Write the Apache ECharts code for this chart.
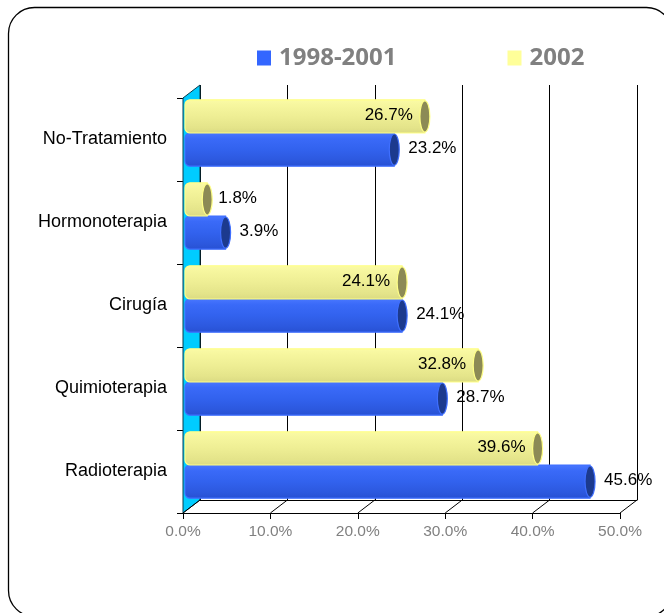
<!DOCTYPE html>
<html>
<head>
<meta charset="utf-8" />
<title>Tratamientos</title>
<script src="https://cdn.jsdelivr.net/npm/echarts@6/dist/echarts.min.js"></script>
<style>
  html, body { margin: 0; padding: 0; background: #fff; }
</style>
</head>
<body>
<div id="main" style="width: 664px;height:613px;"></div>
<script type="text/javascript">
// datos
var categories = ['No-Tratamiento', 'Hormonoterapia', 'Cirugía', 'Quimioterapia', 'Radioterapia'];
var values9801 = [23.2, 3.9, 24.1, 28.7, 45.6];
var values2002 = [26.7, 1.8, 24.1, 32.8, 39.6];
var xTicks = [0, 10, 20, 30, 40, 50];

var DX = 17, DY = 13; // profundidad del efecto 3D
var sans = "'Liberation Sans', Arial, sans-serif";

var myChart = echarts.init(document.getElementById('main'));

// pared izquierda y diagonales del suelo
function renderFrame(params, api) {
  var v = api.value(0);
  var band = api.size([0, 1])[1];
  var bottom = api.coord([0, categories.length - 1])[1] + band / 2;
  var top = api.coord([0, 0])[1] - band / 2;
  var x = api.coord([v, 0])[0];
  var children = [{
    type: 'line',
    shape: { x1: x, y1: bottom, x2: x + DX, y2: bottom - DY },
    style: { stroke: '#000', lineWidth: 1 }
  }];
  if (v === 0) {
    children.unshift({
      type: 'polygon',
      shape: { points: [[x, top], [x + DX, top - DY], [x + DX, bottom - DY], [x, bottom]] },
      style: { fill: '#00CCFF', stroke: '#0a3c4c', lineWidth: 1 }
    });
  }
  return { type: 'group', children: children };
}

function makeBar(isTop, body, edge, cap) {
  return function (params, api) {
    var cat = api.value(0);
    var v = api.value(1);
    var zero = api.coord([0, cat]);
    var end = api.coord([v, cat]);
    var band = api.size([0, 1])[1];
    var h = band * 0.4;
    var cy = zero[1] - DY / 2;
    var y0 = isTop ? cy - h : cy;
    var x0 = zero[0] + 2;
    var xe = end[0] + DX / 2;
    var label;
    if (isTop && v > 10) {
      label = { x: xe - 12, align: 'right' };
    } else {
      label = { x: xe + (isTop ? 11 : 14), align: 'left' };
    }
    return {
      type: 'group',
      children: [{
        type: 'rect',
        shape: { x: x0, y: y0, width: xe - x0, height: h, r: [5, 0, 0, 5] },
        style: {
          fill: new echarts.graphic.LinearGradient(0, 0, 0, 1, body),
          stroke: edge, lineWidth: 1.2
        }
      }, {
        type: 'ellipse',
        shape: { cx: xe, cy: y0 + h / 2, rx: 5, ry: h / 2 - 1 },
        style: { fill: cap, stroke: edge, lineWidth: 1.2 }
      }, {
        type: 'text',
        style: {
          text: v.toFixed(1) + '%',
          x: label.x, y: y0 + h / 2 - 1,
          align: label.align, verticalAlign: 'middle',
          font: '17px ' + sans,
          fill: '#000'
        },
        z2: 10
      }]
    };
  };
}

var option = {
  animation: false,
  graphic: [{
    type: 'rect',
    shape: { x: 8.5, y: 7.5, width: 664, height: 609, r: 26 },
    style: { fill: 'none', stroke: '#000', lineWidth: 1.3 },
    silent: true
  }],
  legend: {
    data: ['1998-2001', '2002'],
    left: 252,
    top: 41,
    icon: 'rect',
    itemWidth: 14,
    itemHeight: 15,
    itemGap: 111,
    textStyle: {
      color: '#808080', fontWeight: 'bold', fontSize: 24,
      fontFamily: "'Noto Sans', 'DejaVu Sans', sans-serif",
      padding: [0, 0, 0, 3]
    }
  },
  grid: [
    { left: 183, top: 98, width: 437, height: 415 },
    { left: 200, top: 85, width: 437, height: 415 }
  ],
  xAxis: [{
    gridIndex: 0,
    type: 'value', min: 0, max: 50, interval: 10,
    axisLine: { show: true, lineStyle: { color: '#000', width: 1 } },
    axisTick: { show: true, length: 6, lineStyle: { color: '#000' } },
    axisLabel: {
      margin: 11,
      color: '#808080',
      fontSize: 15.5,
      fontFamily: sans,
      formatter: function (v) { return v.toFixed(1) + '%'; }
    },
    splitLine: { show: false }
  }, {
    gridIndex: 1,
    type: 'value', min: 0, max: 50, interval: 10,
    axisLine: { show: true, lineStyle: { color: '#000', width: 1 } },
    axisTick: { show: false },
    axisLabel: { show: false },
    splitLine: { show: true, lineStyle: { color: '#000', width: 1 } }
  }],
  yAxis: [{
    gridIndex: 0,
    type: 'category',
    data: categories,
    inverse: true,
    axisLine: { show: true, lineStyle: { color: '#000' } },
    axisTick: { show: true, length: 6, lineStyle: { color: '#000' } },
    axisLabel: {
      margin: 16, color: '#000', fontSize: 18,
      fontFamily: sans
    }
  }, {
    gridIndex: 1,
    type: 'category',
    data: categories,
    inverse: true,
    show: false
  }],
  series: [{
    name: 'marco',
    type: 'custom',
    xAxisIndex: 0, yAxisIndex: 0,
    renderItem: renderFrame,
    data: xTicks.map(function (v) { return [v, 0]; }),
    encode: { x: 0, y: 1 },
    silent: true,
    z: 1
  }, {
    name: '1998-2001',
    type: 'custom',
    xAxisIndex: 0, yAxisIndex: 0,
    itemStyle: { color: '#3366FF' },
    renderItem: makeBar(false,
      [{ offset: 0, color: '#4A78FF' }, { offset: 0.18, color: '#3A6AF8' },
       { offset: 0.5, color: '#3262EE' }, { offset: 0.82, color: '#2C58DE' },
       { offset: 1, color: '#2750D2' }],
      '#3F6FFF', '#1C3A8E'),
    data: values9801.map(function (v, i) { return [i, v]; }),
    encode: { x: 1, y: 0 },
    z: 3
  }, {
    name: '2002',
    type: 'custom',
    xAxisIndex: 0, yAxisIndex: 0,
    itemStyle: { color: '#FFFF99' },
    renderItem: makeBar(true,
      [{ offset: 0, color: '#FBFBA6' }, { offset: 0.18, color: '#F6F69E' },
       { offset: 0.5, color: '#EEEE94' }, { offset: 0.82, color: '#E4E48A' },
       { offset: 1, color: '#DADA82' }],
      '#FFFF88', '#8C8A55'),
    data: values2002.map(function (v, i) { return [i, v]; }),
    encode: { x: 1, y: 0 },
    z: 3
  }]
};

myChart.setOption(option);
</script>
</body>
</html>
